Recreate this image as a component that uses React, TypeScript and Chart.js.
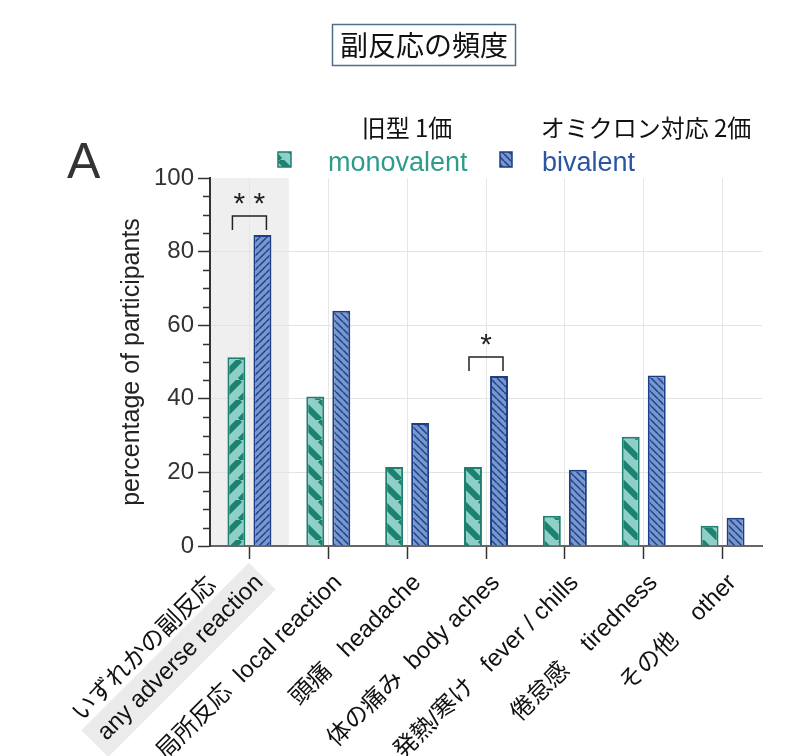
import React, { useEffect, useRef } from 'react';
import { Chart, registerables } from 'chart.js';

Chart.register(...registerables);

const categoryJa = ['いずれかの副反応', '局所反応', '頭痛', '体の痛み', '発熱/寒け', '倦怠感', 'その他'];
const categoryEn = ['any adverse reaction', 'local reaction', 'headache', 'body aches', 'fever / chills', 'tiredness', 'other'];
// gap between the Japanese and English part of each label
const labelGaps = ['', '  ', '   ', '  ', '   ', '    ', '    '];
const monovalent = [51.3, 40.6, 21.5, 21.5, 8.2, 29.7, 5.5];
const bivalent = [84.5, 63.9, 33.4, 46.2, 20.7, 46.3, 7.7];
const significance = [
    { index: 0, label: '* *' },
    { index: 3, label: '*' },
];
const yMin = 0;
const yMax = 100;
const yStep = 20;
const yMinorStep = 5;

const LATIN = '"Liberation Sans", Arial, "Noto Sans CJK JP", sans-serif';
const CJK = '"Noto Sans CJK JP", "Liberation Sans", sans-serif';

function makeStripes(ctx: CanvasRenderingContext2D, bg: string, fg: string, size: number, lw: number, forward: boolean) {
    const c = document.createElement('canvas');
    c.width = size;
    c.height = size;
    const g = c.getContext('2d')!;
    g.fillStyle = bg;
    g.fillRect(0, 0, size, size);
    g.strokeStyle = fg;
    g.lineWidth = lw;
    g.beginPath();
    for (const o of [-size, 0, size]) {
        if (forward) {
            g.moveTo(o, size);
            g.lineTo(o + size, 0);
        } else {
            g.moveTo(o, 0);
            g.lineTo(o + size, size);
        }
    }
    g.stroke();
    return ctx.createPattern(c, 'repeat')!;
}

const App: React.FC = () => {
    const chartRef = useRef<HTMLCanvasElement>(null);
    const chartInstanceRef = useRef<Chart | null>(null);

    useEffect(() => {
        document.body.style.margin = '0';
        if (!chartRef.current) return;
        const ctx = chartRef.current.getContext('2d');
        if (!ctx) return;
        if (chartInstanceRef.current) chartInstanceRef.current.destroy();

        const monoBack = makeStripes(ctx, '#8fd0c6', '#1c8171', 20, 6, false);
        const monoFwd = makeStripes(ctx, '#8fd0c6', '#1c8171', 20, 6, true);
        const biBack = makeStripes(ctx, '#7797cd', '#1e428c', 7, 1.5, false);
        const biFwd = makeStripes(ctx, '#7797cd', '#1e428c', 7, 1.5, true);

        const decorations = {
            id: 'decorations',
            beforeDraw(chart: any) {
                const { ctx: c, chartArea, scales } = chart;
                const xs = scales.x;
                const half = (xs.getPixelForValue(1) - xs.getPixelForValue(0)) / 2;
                c.save();
                c.fillStyle = '#efefef';
                c.fillRect(chartArea.left, chartArea.top, xs.getPixelForValue(0) + half - chartArea.left, chartArea.bottom - chartArea.top);
                c.restore();
            },
            afterDatasetsDraw(chart: any) {
                const { ctx: c, chartArea, scales } = chart;
                const xs = scales.x;
                const ys = scales.y;
                c.save();
                // minor ticks
                c.strokeStyle = '#333';
                c.lineWidth = 1.5;
                c.beginPath();
                for (let v = yMin + yMinorStep; v < yMax; v += yMinorStep) {
                    if (v % yStep === 0) continue;
                    const py = Math.round(ys.getPixelForValue(v)) + 0.5;
                    c.moveTo(chartArea.left - 7, py);
                    c.lineTo(chartArea.left, py);
                }
                c.stroke();

                // significance brackets
                c.strokeStyle = '#222';
                c.lineWidth = 1.5;
                c.fillStyle = '#222';
                c.font = `30px ${LATIN}`;
                c.textAlign = 'center';
                c.textBaseline = 'alphabetic';
                significance.forEach((s) => {
                    const xc = xs.getPixelForValue(s.index);
                    const yb = ys.getPixelForValue(bivalent[s.index]);
                    const yh = yb - 19;
                    c.beginPath();
                    c.moveTo(xc - 17, yb - 5);
                    c.lineTo(xc - 17, yh);
                    c.lineTo(xc + 17, yh);
                    c.lineTo(xc + 17, yb - 5);
                    c.stroke();
                    c.fillText(s.label, xc, yh - 21 + 18);
                });
                c.restore();
            },
            afterDraw(chart: any) {
                const { ctx: c, scales } = chart;
                const xs = scales.x;
                c.save();

                // title box
                c.strokeStyle = '#4f6d8c';
                c.lineWidth = 1.5;
                c.strokeRect(332.5, 24.5, 183, 41);
                c.fillStyle = '#111';
                c.font = `28px ${CJK}`;
                c.textAlign = 'center';
                c.textBaseline = 'middle';
                c.fillText('副反応の頻度', 424, 45);

                // panel letter
                c.fillStyle = '#333';
                c.font = `50px ${LATIN}`;
                c.textAlign = 'left';
                c.textBaseline = 'alphabetic';
                c.fillText('A', 67, 178);

                // legend
                c.fillStyle = '#111';
                c.font = `24px ${CJK}`;
                c.textAlign = 'center';
                c.textBaseline = 'middle';
                c.fillText('旧型 1価', 407, 128);
                c.fillText('オミクロン対応 2価', 646, 128);

                c.lineWidth = 1.5;
                c.fillStyle = monoBack;
                c.fillRect(278, 152, 13, 15);
                c.strokeStyle = '#1f7f71';
                c.strokeRect(278, 152, 13, 15);
                c.fillStyle = biBack;
                c.fillRect(500, 152, 12, 15);
                c.strokeStyle = '#1d3d86';
                c.strokeRect(500, 152, 12, 15);

                c.font = `27px ${LATIN}`;
                c.textAlign = 'left';
                c.textBaseline = 'alphabetic';
                c.fillStyle = '#2e9c8c';
                c.fillText('monovalent', 328, 171);
                c.fillStyle = '#2b55a1';
                c.fillText('bivalent', 542, 171);

                // category labels
                c.font = `24px ${LATIN}`;
                c.textAlign = 'right';
                c.textBaseline = 'middle';
                categoryEn.forEach((en, i) => {
                    const x = xs.getPixelForValue(i);
                    c.save();
                    c.translate(x + 10, 579);
                    c.rotate(-Math.PI / 4);
                    if (i === 0) {
                        const w = c.measureText(en).width;
                        c.fillStyle = '#ebebeb';
                        c.fillRect(-(w + 10), -19, w + 14, 38);
                        c.fillStyle = '#111';
                        c.fillText(en, 0, 0);
                        c.fillText(categoryJa[i], -35, -31);
                    } else {
                        c.fillStyle = '#111';
                        c.fillText(`${categoryJa[i]}${labelGaps[i]}${en}`, 0, 0);
                    }
                    c.restore();
                });
                c.restore();
            },
        };

        chartInstanceRef.current = new Chart(ctx, {
            type: 'bar',
            data: {
                labels: categoryEn,
                datasets: [
                    {
                        label: 'monovalent',
                        data: monovalent,
                        backgroundColor: (c: any) => (c.dataIndex === 0 ? monoFwd : monoBack),
                        borderColor: '#1f7f71',
                        borderWidth: 2,
                        barPercentage: 0.69,
                        categoryPercentage: 0.66,
                    },
                    {
                        label: 'bivalent',
                        data: bivalent,
                        backgroundColor: (c: any) => (c.dataIndex === 0 ? biFwd : biBack),
                        borderColor: '#1d3d86',
                        borderWidth: 2,
                        barPercentage: 0.69,
                        categoryPercentage: 0.66,
                    },
                ],
            },
            options: {
                responsive: false,
                animation: false,
                layout: {
                    padding: { top: 178, right: 41, left: 115, bottom: 0 },
                },
                plugins: {
                    legend: { display: false },
                    tooltip: { enabled: false },
                },
                scales: {
                    x: {
                        offset: true,
                        afterFit: (s: any) => {
                            s.height = 210;
                        },
                        grid: {
                            offset: false,
                            color: '#e6e6e6',
                            tickColor: '#333',
                            tickLength: 13,
                            tickWidth: 1.5,
                        },
                        border: { color: '#666', width: 2 },
                        ticks: { display: false },
                    },
                    y: {
                        min: yMin,
                        max: yMax,
                        afterFit: (s: any) => {
                            s.width = 95;
                        },
                        ticks: {
                            stepSize: yStep,
                            padding: 4,
                            color: '#333',
                            font: { family: LATIN, size: 24 },
                        },
                        grid: {
                            color: (c: any) => (c.tick && (c.tick.value === yMin || c.tick.value === yMax) ? 'rgba(0,0,0,0)' : '#e3e3e3'),
                            tickColor: '#333',
                            tickLength: 12,
                            tickWidth: 1.5,
                        },
                        border: { color: '#333', width: 2 },
                        title: {
                            display: true,
                            text: 'percentage of participants',
                            color: '#222',
                            font: { family: LATIN, size: 25 },
                            padding: { top: 2, bottom: 0 },
                        },
                    },
                },
            },
            plugins: [decorations],
        });

        return () => {
            if (chartInstanceRef.current) {
                chartInstanceRef.current.destroy();
                chartInstanceRef.current = null;
            }
        };
    }, []);

    return (
        <canvas
            ref={chartRef}
            width={803}
            height={756}
            style={{ display: 'block', width: '803px', height: '756px' }}
        ></canvas>
    );
};

export default App;
